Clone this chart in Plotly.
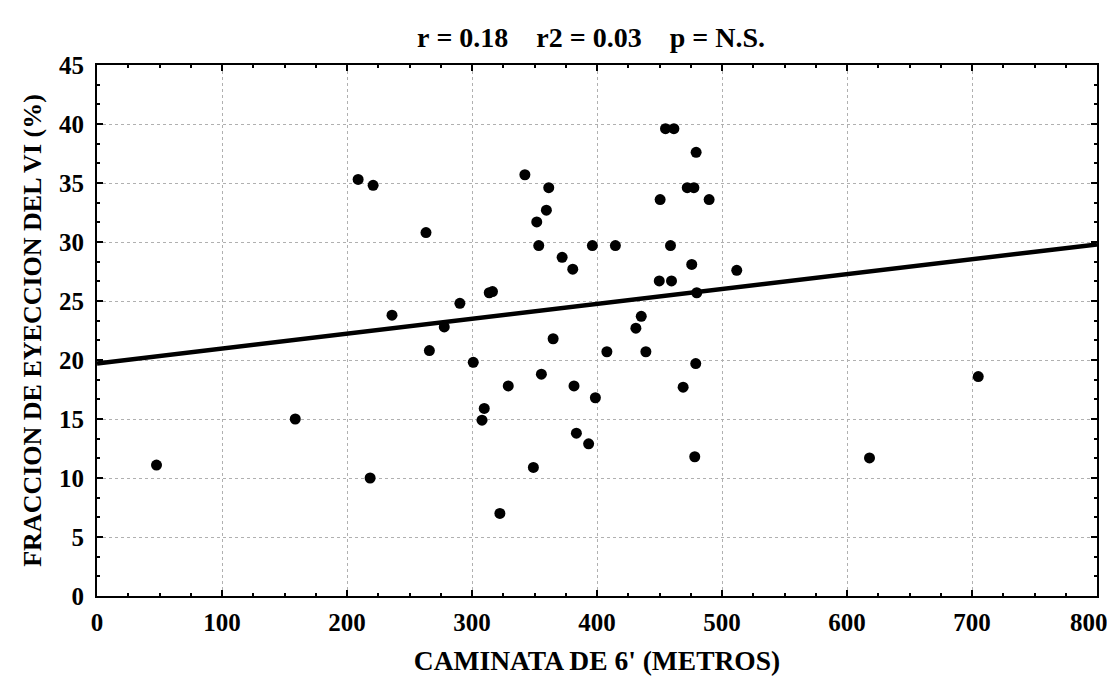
import plotly.graph_objects as go

# Data
walk_m = [47.6, 158.6, 218.5, 265.9, 301.0, 309.8, 308.0, 277.8,
          208.9, 220.9, 263.2, 236.0, 290.3, 313.8,
          454.8, 461.5, 479.3, 342.3, 361.4, 472.2, 477.5, 450.5, 489.7,
          359.5, 351.8, 353.4, 396.3, 414.7, 458.8, 372.1, 475.8, 380.6,
          511.8, 449.8, 459.6, 316.4, 479.8, 435.4, 431.1, 364.9,
          407.9, 439.1, 479.0, 355.5, 329.0, 381.6, 468.9, 398.7,
          383.5, 393.3, 349.1, 478.2, 322.3, 705.0, 618.0]
fevi_pct = [11.1, 15.0, 10.0, 20.8, 19.8, 15.9, 14.9, 22.8,
            35.3, 34.8, 30.8, 23.8, 24.8, 25.7,
            39.6, 39.6, 37.6, 35.7, 34.6, 34.6, 34.6, 33.6, 33.6,
            32.7, 31.7, 29.7, 29.7, 29.7, 29.7, 28.7, 28.1, 27.7,
            27.6, 26.7, 26.7, 25.8, 25.7, 23.7, 22.7, 21.8,
            20.7, 20.7, 19.7, 18.8, 17.8, 17.8, 17.7, 16.8,
            13.8, 12.9, 10.9, 11.8, 7.0, 18.6, 11.7]

fit_x = [0, 800]
fit_y = [19.7, 29.8]

x_ticks = [0, 100, 200, 300, 400, 500, 600, 700, 800]
y_ticks = [0, 5, 10, 15, 20, 25, 30, 35, 40, 45]

NB = "\u00a0"
title_text = f"r{NB}={NB}0.18{NB*4}r2{NB}={NB}0.03{NB*4}p{NB}={NB}N.S."
x_title = "CAMINATA DE 6' (METROS)"
y_title = "FRACCION DE EYECCION DEL VI (%)"

FONT = "Liberation Serif"
OFF = 8  # page body margin offset

# last x label is drawn as an annotation nudged left so it stays inside the page
x_ticktext = [str(v) for v in x_ticks[:-1]] + [""]

fig = go.Figure()
fig.add_trace(go.Scatter(x=fit_x, y=fit_y, mode="lines",
                         line=dict(color="black", width=4.5),
                         hoverinfo="skip", showlegend=False))
fig.add_trace(go.Scatter(x=walk_m, y=fevi_pct, mode="markers",
                         marker=dict(color="black", size=11, line=dict(width=0)),
                         showlegend=False))

tick_font = dict(family=FONT, size=25, color="black", weight="bold")

axis_common = dict(
    showline=True, linecolor="black", linewidth=2, mirror="ticks",
    ticks="inside", ticklen=6, tickwidth=2, tickcolor="black",
    showgrid=True, gridcolor="#b0b0b0", gridwidth=1, griddash="dot",
    zeroline=False, automargin=False,
    tickfont=tick_font,
)

fig.update_xaxes(range=[0, 800], tickvals=x_ticks, ticktext=x_ticktext,
                 ticklabelstandoff=3,
                 minor=dict(dtick=25, ticks="inside", ticklen=3, tickcolor="black", showgrid=False),
                 title=dict(text=x_title, font=dict(family=FONT, size=27.5, color="black", weight="bold"), standoff=16),
                 **axis_common)
fig.update_yaxes(range=[0, 45], tickvals=y_ticks, ticktext=[str(v) for v in y_ticks],
                 ticklabelstandoff=6,
                 minor=dict(dtick=5/3, ticks="inside", ticklen=3, tickcolor="black", showgrid=False),
                 title=dict(text=y_title, font=dict(family=FONT, size=26, color="black", weight="bold"), standoff=10),
                 **axis_common)

fig.add_annotation(x=x_ticks[-1], y=0, xref="x", yref="y", text=str(x_ticks[-1]),
                   showarrow=False, xanchor="center", yanchor="middle",
                   xshift=-8, yshift=-26, font=tick_font)

fig.update_layout(
    width=1115, height=676,
    margin=dict(l=97 - OFF, r=18 + OFF, t=65 - OFF, b=80 + OFF),
    paper_bgcolor="white", plot_bgcolor="white",
    title=dict(text=title_text, x=(591 - OFF) / 1115, xanchor="center", y=1 - (37 - OFF) / 676, yanchor="middle",
               font=dict(family=FONT, size=28, color="black", weight="bold")),
)

fig.write_html("out.html")
